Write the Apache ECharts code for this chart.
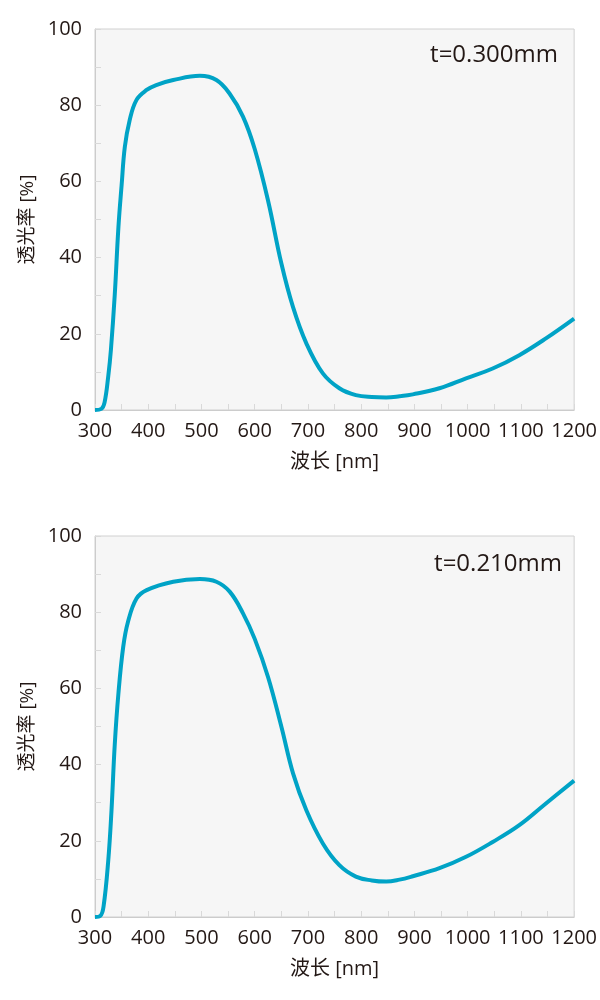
<!DOCTYPE html>
<html>
<head>
<meta charset="utf-8">
<script src="https://cdn.jsdelivr.net/npm/echarts@6/dist/echarts.min.js"></script>
<style>
html,body{margin:0;padding:0;background:#fff;}
#chart{width:600px;height:1000px;}
</style>
</head>
<body>
<div id="chart"></div>
<script>
// ---- data ----
const labelTop = 't=0.300mm';
const labelBottom = 't=0.210mm';
const xAxisName = '波长 [nm]';
const yAxisName = '透光率 [%]';

const wlTop = [300, 312, 318, 325, 330, 337, 344, 350, 356, 365, 378, 397, 415, 447, 497, 528, 553, 578, 600, 625, 650, 672, 697, 728, 759, 790, 820, 847, 872, 897, 947, 997, 1047, 1097, 1147, 1200];
const tTop  = [0, 0.3, 2, 9, 16, 30, 48, 59, 69, 76, 81.4, 84, 85.3, 86.6, 87.7, 86.6, 83, 77, 68.5, 55, 38.5, 27, 17.5, 9.6, 5.7, 3.9, 3.4, 3.3, 3.6, 4.1, 5.7, 8.3, 10.9, 14.4, 18.8, 24];

const wlBottom = [300, 310, 316, 325, 331, 337, 344, 353, 362, 378, 397, 447, 497, 528, 553, 578, 600, 625, 650, 672, 697, 728, 759, 790, 820, 847, 872, 897, 947, 997, 1047, 1097, 1147, 1200];
const tBottom  = [0, 0.3, 2.7, 15, 28, 45, 58.7, 70.9, 77.5, 83.6, 85.8, 88, 88.7, 88, 85.4, 79.7, 73, 63, 50, 37.7, 28, 19.3, 13.6, 10.6, 9.6, 9.3, 9.8, 10.7, 12.8, 15.8, 19.7, 24.1, 29.8, 35.8];

const xMin = 300, xMax = 1200, xStep = 100;
const yMin = 0, yMax = 100, yStep = 20;

// ---- chart ----
const FONT = "'Open Sans', 'Noto Sans CJK SC', sans-serif";
const TXT = '#231815';
const LINE = '#00a3c6';
const TICK = '#d9d9d9';

function pairs(xs, ys){ return xs.map((x,i)=>[x, ys[i]]); }

function xAxis(gi){
  return {
    gridIndex: gi, type: 'value', min: xMin, max: xMax, interval: xStep,
    name: xAxisName, nameLocation: 'middle', nameGap: 42,
    nameTextStyle: {fontFamily: FONT, fontSize: 20, color: TXT},
    axisLine: {show: true, lineStyle: {color: '#cccccc', width: 1}},
    axisTick: {show: true, inside: true, length: 6, lineStyle: {color: TICK}},
    minorTick: {show: true, splitNumber: 2, length: 6, lineStyle: {color: TICK}},
    splitLine: {show: false},
    axisLabel: {fontFamily: FONT, fontSize: 20, color: TXT, margin: 11, showMinLabel: true, showMaxLabel: true,
      formatter: v => String(v)}
  };
}
function yAxis(gi){
  return {
    gridIndex: gi, type: 'value', min: yMin, max: yMax, interval: yStep,
    name: yAxisName, nameLocation: 'middle', nameGap: 56,
    nameTextStyle: {fontFamily: FONT, fontSize: 19, color: TXT},
    axisLine: {show: true, lineStyle: {color: '#cccccc', width: 1}},
    axisTick: {show: true, inside: true, length: 6, lineStyle: {color: TICK}},
    minorTick: {show: true, splitNumber: 2, length: 6, lineStyle: {color: TICK}},
    splitLine: {show: false},
    axisLabel: {fontFamily: FONT, fontSize: 20, color: TXT, margin: 13, formatter: v => String(v)}
  };
}
function series(gi, data){
  return {
    type: 'line', xAxisIndex: gi, yAxisIndex: gi, data: data,
    smooth: 0.4, showSymbol: false, symbol: 'none',
    lineStyle: {color: LINE, width: 4}, silent: true, animation: false
  };
}

const chart = echarts.init(document.getElementById('chart'), null, {renderer: 'canvas'});
chart.setOption({
  animation: false,
  grid: [
    {left: 95, top: 29, width: 480, height: 381, show: true, backgroundColor: '#f6f6f6', borderColor: '#d0d0d0', borderWidth: 1},
    {left: 95, top: 536, width: 480, height: 381, show: true, backgroundColor: '#f6f6f6', borderColor: '#d0d0d0', borderWidth: 1}
  ],
  xAxis: [xAxis(0), xAxis(1)],
  yAxis: [yAxis(0), yAxis(1)],
  series: [series(0, pairs(wlTop, tTop)), series(1, pairs(wlBottom, tBottom))],
  graphic: [
    {type: 'text', right: 42, top: 43, style: {text: labelTop, font: "24px " + FONT, fill: TXT}},
    {type: 'text', right: 38, top: 552, style: {text: labelBottom, font: "24px " + FONT, fill: TXT}}
  ]
});
</script>
</body>
</html>
